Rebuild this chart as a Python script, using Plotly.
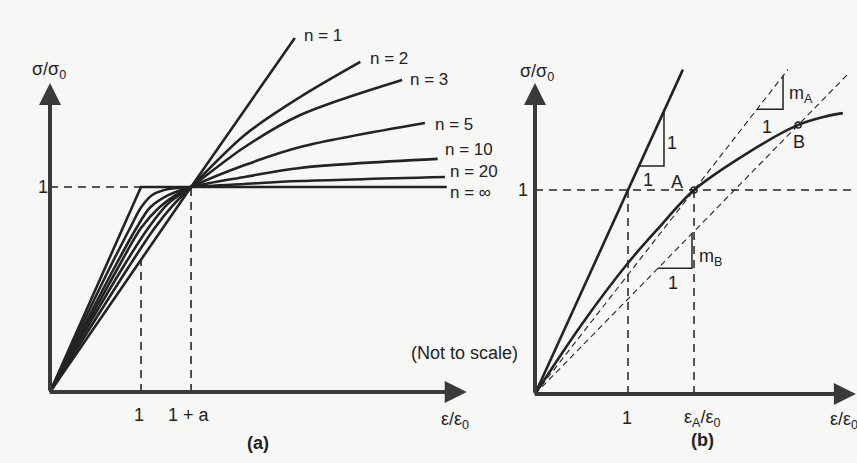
import plotly.graph_objects as go

# ---------------- panel (a): stress-strain family for several exponents n ----------------
eps_n1 = [0.0, 1.55, 2.69]
sig_n1 = [0.0, 1.0, 1.727]

eps_n2 = [0.0, 0.85, 1.15, 1.35, 1.55, 2.14, 2.75, 3.41]
sig_n2 = [0.0, 0.60, 0.80, 0.91, 1.00, 1.254, 1.439, 1.61]

eps_n3 = [0.0, 0.79, 1.08, 1.30, 1.55, 2.14, 2.75, 3.87]
sig_n3 = [0.0, 0.60, 0.80, 0.92, 1.00, 1.195, 1.351, 1.522]

eps_n5 = [0.0, 0.74, 1.00, 1.20, 1.38, 1.55, 2.14, 2.75, 4.12]
sig_n5 = [0.0, 0.60, 0.80, 0.90, 0.96, 1.00, 1.107, 1.195, 1.312]

eps_n10 = [0.0, 0.70, 0.95, 1.10, 1.30, 1.55, 2.14, 2.75, 4.26]
sig_n10 = [0.0, 0.60, 0.80, 0.90, 0.96, 1.00, 1.049, 1.093, 1.137]

eps_n20 = [0.0, 0.65, 0.88, 1.00, 1.12, 1.30, 1.55, 2.14, 2.75, 4.34]
sig_n20 = [0.0, 0.60, 0.80, 0.90, 0.96, 0.99, 1.00, 1.015, 1.029, 1.049]

eps_ninf = [0.0, 1.0, 4.36]
sig_ninf = [0.0, 1.0, 1.0]

n_labels = ["n = 1", "n = 2", "n = 3", "n = 5", "n = 10", "n = 20", "n = ∞"]
strain_yield = 1.0          # ε/ε0 = 1
strain_one_plus_a = 1.55    # ε/ε0 = 1 + a
tick_labels_a = ["1", "1 + a"]

# ---------------- panel (b): secant slopes on a hardening curve ----------------
eps_elastic = [0.0, 1.59]
sig_elastic = [0.0, 1.59]

eps_curve = [0.0, 0.50, 1.00, 1.31, 1.71, 2.28, 2.83, 3.10, 3.31]
sig_curve = [0.0, 0.34, 0.642, 0.804, 1.00, 1.18, 1.319, 1.358, 1.377]

eps_A, sig_A = 1.71, 1.0
eps_B, sig_B = 2.83, 1.319
secant_A_end = 2.72
secant_B_end = 3.37
tick_labels_b = ["1", "ε<sub>A</sub>/ε<sub>0</sub>"]

INK = "#232323"
AXIS = "#3a3a3a"
BG = "#f7f7f6"
FONT = "Liberation Sans, Arial, sans-serif"

fig = go.Figure()


def curve(x, y, ax, width=2.6, shape="spline", dash=None, color=INK):
    fig.add_trace(go.Scatter(
        x=x, y=y, mode="lines", xaxis=ax[0], yaxis=ax[1],
        line=dict(color=color, width=width, shape=shape, smoothing=0.9,
                  dash=dash),
        hoverinfo="skip", showlegend=False))


A = ("x", "y")
B = ("x2", "y2")

# panel (a) curves
curve(eps_n1, sig_n1, A, shape="linear")
for ex, sy in [(eps_n2, sig_n2), (eps_n3, sig_n3), (eps_n5, sig_n5),
               (eps_n10, sig_n10), (eps_n20, sig_n20)]:
    curve(ex, sy, A)
curve(eps_ninf, sig_ninf, A, shape="linear")

# panel (a) guide lines
dash_a = "8px,6px"
curve([0, strain_one_plus_a], [1, 1], A, width=1.6, shape="linear", dash=dash_a)
curve([strain_yield, strain_yield], [0, sig_n1[1] / eps_n1[1] * strain_yield],
      A, width=1.6, shape="linear", dash=dash_a)
curve([strain_one_plus_a, strain_one_plus_a], [0, 1], A, width=1.6,
      shape="linear", dash=dash_a)

# panel (b) curves
curve(eps_elastic, sig_elastic, B, shape="linear")
curve(eps_curve, sig_curve, B)

mA = sig_A / eps_A
mB = sig_B / eps_B
curve([0, secant_A_end], [0, mA * secant_A_end], B, width=1.1, shape="linear",
      dash="6px,4px")
curve([0, secant_B_end], [0, mB * secant_B_end], B, width=1.1, shape="linear",
      dash="6px,4px")

# guide lines (b)
dash_b = "8px,6px"
curve([0, 3.46], [1, 1], B, width=1.5, shape="linear", dash=dash_b)
curve([1, 1], [0, 1], B, width=1.5, shape="linear", dash=dash_b)
curve([eps_A, eps_A], [0, sig_A], B, width=1.5, shape="linear", dash=dash_b)

# slope triangles (b)
e0, e1 = 1.118, 1.387
curve([e0, e1, e1], [e0, e0, e1], B, width=1.5, shape="linear")
a0, a1 = 2.387, 2.667
curve([a0, a1, a1], [mA * a0, mA * a0, mA * a1], B, width=1.5, shape="linear")
b0, b1 = 1.323, 1.688
curve([b0, b1, b1], [mB * b0, mB * b0, mB * b1], B, width=1.5, shape="linear")

# points A and B
fig.add_trace(go.Scatter(
    x=[eps_A, eps_B], y=[sig_A, sig_B], mode="markers", xaxis="x2", yaxis="y2",
    marker=dict(symbol="circle-open", size=6, color=INK, line=dict(width=1.5)),
    hoverinfo="skip", showlegend=False))

ann = []


def text(x, y, s, ref, size=18, xanchor="center", yanchor="middle", bold=False):
    ann.append(dict(x=x, y=y, xref=ref[0], yref=ref[1], text=f"<b>{s}</b>" if bold else s,
                    showarrow=False, xanchor=xanchor, yanchor=yanchor,
                    font=dict(family=FONT, size=size, color=INK)))


def arrow(x0, y0, x1, y1, ref):
    ann.append(dict(x=x1, y=y1, ax=x0, ay=y0, xref=ref[0], yref=ref[1],
                    axref=ref[0], ayref=ref[1], showarrow=True, text="",
                    arrowhead=2, arrowsize=1.1, arrowwidth=4, arrowcolor=AXIS,
                    standoff=0, startstandoff=0))


# axes as arrows
arrow(0, 0, 0, 1.507, A)
arrow(-0.02, 0, 4.58, 0, A)
arrow(0, 0, 0, 1.525, B)
arrow(-0.02, 0, 3.45, 0, B)

# panel (a) text
text(-0.01, 1.566, "σ/σ<sub>0</sub>", A)
text(-0.08, 1.0, "1", A)
text(strain_yield - 0.02, -0.112, tick_labels_a[0], A)
text(strain_one_plus_a - 0.02, -0.112, tick_labels_a[1], A)
text(4.45, -0.137, "ε/ε<sub>0</sub>", A)
text(2.286, -0.25, "(a)", A, bold=True)
label_pos = [(2.77, 1.737), (3.495, 1.629), (3.934, 1.522), (4.209, 1.307),
             (4.319, 1.185), (4.374, 1.078), (4.374, 0.972)]
for (lx, ly), s in zip(label_pos, n_labels):
    text(lx, ly, s, A, size=17, xanchor="left")
text(4.56, 0.19, "(Not to scale)", A)

# panel (b) text
text(0.02, 1.578, "σ/σ<sub>0</sub>", B)
text(-0.13, 1.0, "1", B)
text(0.99, -0.118, tick_labels_b[0], B)
text(eps_A + 0.09, -0.118, tick_labels_b[1], B)
text(3.15, -0.132, "ε/ε<sub>0</sub>", B, xanchor="left")
text(1.8, -0.225, "(b)", B, bold=True)
text(1.473, 1.23, "1", B)
text(1.215, 1.05, "1", B)
text(1.53, 1.04, "A", B)
text(2.84, 1.235, "B", B)
text(2.71, 1.47, "m<sub>A</sub>", B, xanchor="left")
text(2.49, 1.31, "1", B)
text(1.742, 0.667, "m<sub>B</sub>", B, xanchor="left")
text(1.484, 0.544, "1", B)

hidden = dict(visible=False, showgrid=False, zeroline=False, fixedrange=True)
fig.update_layout(
    width=857, height=463,
    margin=dict(l=0, r=0, t=0, b=0),
    paper_bgcolor=BG, plot_bgcolor=BG,
    showlegend=False,
    xaxis=dict(domain=[0, 480 / 857], range=[-0.5495, 4.7253], **hidden),
    yaxis=dict(domain=[0, 1], range=[-0.3463, 1.9122], **hidden),
    xaxis2=dict(domain=[480 / 857, 1], range=[-0.5914, 3.4624], anchor="y2", **hidden),
    yaxis2=dict(domain=[0, 1], range=[-0.3382, 1.9314], anchor="x2", **hidden),
    annotations=ann,
)

fig.write_html("out.html")
